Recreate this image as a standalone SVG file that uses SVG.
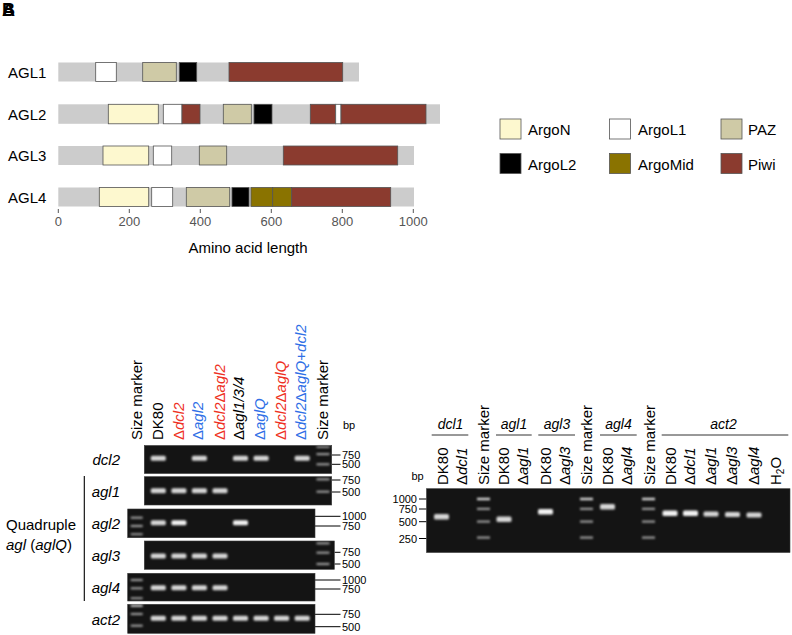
<svg xmlns="http://www.w3.org/2000/svg" width="792" height="635" viewBox="0 0 792 635">
<style>
text{font-family:"Liberation Sans",Arial,sans-serif;fill:#000}
.lbl{font-size:15px}
.it{font-style:italic}
.tick{font-size:13px;fill:#555}
.bp{font-size:11px}
.num{font-size:11px}
.gray{fill:#cccccc}
.dom{stroke:#555;stroke-width:0.8}
.argon{fill:#fdf8cf}
.argol1{fill:#ffffff}
.paz{fill:#cfcaa6}
.argol2{fill:#000000}
.argomid{fill:#8a7300}
.piwi{fill:#8b3b2f}
.gel{fill:#141414;stroke:#3a3a3a;stroke-width:0.6}
.band{fill:#d6d6d6;filter:url(#glow)}
.bandb{fill:#f2f2f2;filter:url(#glow)}
.lad{fill:#9a9a9a;filter:url(#glow)}
.ln{stroke:#000;stroke-width:1.1;fill:none}
.red{fill:#ee3124}
.blue{fill:#2f6fe6}
</style>
<defs>
<filter id="glow" x="-30%" y="-80%" width="160%" height="260%">
<feGaussianBlur stdDeviation="0.8"/>
</filter>
</defs>

<g id="panel-label">
<text x="2" y="16" style="font-size:18px;font-weight:bold">A</text>
<text x="2" y="16" style="font-size:18px;font-weight:bold">B</text>
</g>

<!-- Domain diagram -->
<g id="AGL1">
<text class="lbl" x="8" y="77.5">AGL1</text>
<rect class="gray" x="58.3" y="62.5" width="300.7" height="19"/>
<rect class="dom argol1" x="95.7" y="62.5" width="20.6" height="19"/>
<rect class="dom paz" x="142.7" y="62.5" width="33.6" height="19"/>
<rect class="dom argol2" x="179.3" y="62.5" width="17.4" height="19"/>
<rect class="dom piwi" x="229" y="62.5" width="113.7" height="19"/>
</g>
<g id="AGL2">
<text class="lbl" x="8" y="119.8">AGL2</text>
<rect class="gray" x="58.3" y="104.3" width="381.7" height="19.5"/>
<rect class="dom argon" x="108.3" y="104.3" width="50" height="19.5"/>
<rect class="dom argol1" x="163.3" y="104.3" width="18.7" height="19.5"/>
<rect class="dom piwi" x="182" y="104.3" width="18" height="19.5"/>
<rect class="dom paz" x="223.3" y="104.3" width="28" height="19.5"/>
<rect class="dom argol2" x="254" y="104.3" width="18" height="19.5"/>
<rect class="dom piwi" x="310.3" y="104.3" width="25.4" height="19.5"/>
<rect class="dom argol1" x="335.7" y="104.3" width="5.3" height="19.5"/>
<rect class="dom piwi" x="341" y="104.3" width="85" height="19.5"/>
</g>
<g id="AGL3">
<text class="lbl" x="8" y="161">AGL3</text>
<rect class="gray" x="58.3" y="146" width="355.7" height="19"/>
<rect class="dom argon" x="103" y="146" width="45.7" height="19"/>
<rect class="dom argol1" x="153.3" y="146" width="18.4" height="19"/>
<rect class="dom paz" x="199.3" y="146" width="27.4" height="19"/>
<rect class="dom piwi" x="283.3" y="146" width="114.4" height="19"/>
</g>
<g id="AGL4">
<text class="lbl" x="8" y="202.7">AGL4</text>
<rect class="gray" x="58.3" y="187.5" width="355.7" height="19"/>
<rect class="dom argon" x="99.3" y="187.5" width="49.4" height="19"/>
<rect class="dom argol1" x="151.7" y="187.5" width="21" height="19"/>
<rect class="dom paz" x="186.3" y="187.5" width="43.4" height="19"/>
<rect class="dom argol2" x="232" y="187.5" width="17" height="19"/>
<rect class="dom argomid" x="251" y="187.5" width="21.7" height="19"/>
<rect class="dom argomid" x="272.7" y="187.5" width="19" height="19"/>
<rect class="dom piwi" x="291.7" y="187.5" width="99" height="19"/>
</g>
<g id="axis">
<g stroke="#555" stroke-width="1">
<line x1="58.3" y1="209" x2="58.3" y2="213"/>
<line x1="129.3" y1="209" x2="129.3" y2="213"/>
<line x1="200.3" y1="209" x2="200.3" y2="213"/>
<line x1="271.3" y1="209" x2="271.3" y2="213"/>
<line x1="342.3" y1="209" x2="342.3" y2="213"/>
<line x1="413.3" y1="209" x2="413.3" y2="213"/>
</g>
<g text-anchor="middle">
<text class="tick" x="58.3" y="226">0</text>
<text class="tick" x="129.3" y="226">200</text>
<text class="tick" x="200.3" y="226">400</text>
<text class="tick" x="271.3" y="226">600</text>
<text class="tick" x="342.3" y="226">800</text>
<text class="tick" x="413.3" y="226">1000</text>
<text class="lbl" x="248" y="252.5">Amino acid length</text>
</g>
</g>

<!-- Legend -->
<g id="legend">
<g id="leg-argon"><rect class="dom argon" x="500" y="119" width="21" height="20"/><text class="lbl" x="528" y="135">ArgoN</text></g>
<g id="leg-argol1"><rect class="dom argol1" x="609.5" y="119" width="21" height="20"/><text class="lbl" x="638" y="135">ArgoL1</text></g>
<g id="leg-paz"><rect class="dom paz" x="721" y="119" width="21" height="20"/><text class="lbl" x="748" y="135">PAZ</text></g>
<g id="leg-argol2"><rect class="dom argol2" x="500" y="153.5" width="21" height="20"/><text class="lbl" x="528" y="169.5">ArgoL2</text></g>
<g id="leg-argomid"><rect class="dom argomid" x="609.5" y="153.5" width="21" height="20"/><text class="lbl" x="638" y="169.5">ArgoMid</text></g>
<g id="leg-piwi"><rect class="dom piwi" x="721" y="153.5" width="21" height="20"/><text class="lbl" x="748" y="169.5">Piwi</text></g>
</g>

<!-- Left gel: column labels -->
<g id="left-columns">
<text class="lbl" transform="translate(141.5,440) rotate(-90)">Size marker</text>
<text class="lbl" transform="translate(163.3,440) rotate(-90)">DK80</text>
<text class="lbl red" transform="translate(183.5,440) rotate(-90)">Δ<tspan class="it red">dcl2</tspan></text>
<text class="lbl blue" transform="translate(203,440) rotate(-90)">Δ<tspan class="it blue">agl2</tspan></text>
<text class="lbl red" transform="translate(224.5,440) rotate(-90)">Δ<tspan class="it red">dcl2</tspan>Δ<tspan class="it red">agl2</tspan></text>
<text class="lbl" transform="translate(244,440) rotate(-90)">Δ<tspan class="it">agl1/3/4</tspan></text>
<text class="lbl blue" transform="translate(265,440) rotate(-90)">Δ<tspan class="it blue">aglQ</tspan></text>
<text class="lbl red" transform="translate(285.5,440) rotate(-90)">Δ<tspan class="it red">dcl2</tspan>Δ<tspan class="it red">aglQ</tspan></text>
<text class="lbl blue" transform="translate(305.5,440) rotate(-90)">Δ<tspan class="it blue">dcl2</tspan>Δ<tspan class="it blue">aglQ</tspan>+<tspan class="it blue">dcl2</tspan></text>
<text class="lbl" transform="translate(328.3,440) rotate(-90)">Size marker</text>
<text class="bp" x="343" y="429">bp</text>
</g>

<!-- Left gel: row labels -->
<g id="left-rows">
<g text-anchor="end">
<text class="lbl it" x="120" y="465">dcl2</text>
<text class="lbl it" x="120" y="496.5">agl1</text>
<text class="lbl it" x="120" y="529">agl2</text>
<text class="lbl it" x="120" y="560.5">agl3</text>
<text class="lbl it" x="120" y="593">agl4</text>
<text class="lbl it" x="120" y="625">act2</text>
</g>
<text class="lbl" x="6" y="530">Quadruple</text>
<text class="lbl" x="6" y="550"><tspan class="it">agl</tspan> (<tspan class="it">aglQ</tspan>)</text>
</g>

<g id="connectors">
<line class="ln" x1="84.3" y1="476" x2="84.3" y2="601"/>
<g stroke="#000" stroke-width="1">
<line x1="332" y1="455" x2="340.5" y2="455"/>
<line x1="332" y1="464.3" x2="340.5" y2="464.3"/>
<line x1="332" y1="480" x2="340.5" y2="480"/>
<line x1="332" y1="492" x2="340.5" y2="492"/>
<line x1="315" y1="516.3" x2="340.5" y2="516.3"/>
<line x1="315" y1="526" x2="340.5" y2="526"/>
<line x1="334.5" y1="552.3" x2="340.5" y2="552.3"/>
<line x1="334.5" y1="564" x2="340.5" y2="564"/>
<line x1="315" y1="580" x2="340.5" y2="580"/>
<line x1="315" y1="589" x2="340.5" y2="589"/>
<line x1="315" y1="614.3" x2="340.5" y2="614.3"/>
<line x1="315" y1="626.7" x2="340.5" y2="626.7"/>
<line x1="419" y1="499" x2="426.5" y2="499"/>
<line x1="419" y1="509" x2="426.5" y2="509"/>
<line x1="419" y1="521.7" x2="426.5" y2="521.7"/>
<line x1="419" y1="538.5" x2="426.5" y2="538.5"/>
</g>
<g stroke="#333" stroke-width="1">
<line x1="431.7" y1="435" x2="468.3" y2="435"/>
<line x1="496" y1="435" x2="531.7" y2="435"/>
<line x1="538.3" y1="435" x2="575" y2="435"/>
<line x1="600" y1="435" x2="636.7" y2="435"/>
<line x1="661.7" y1="435" x2="788.3" y2="435"/>
</g>
</g>

<g id="left-size-labels">
<text class="num" x="342" y="459">750</text>
<text class="num" x="342" y="468.4">500</text>
<text class="num" x="342" y="484">750</text>
<text class="num" x="342" y="496">500</text>
<text class="num" x="342" y="520.3">1000</text>
<text class="num" x="342" y="530">750</text>
<text class="num" x="342" y="556.3">750</text>
<text class="num" x="342" y="568">500</text>
<text class="num" x="342" y="584">1000</text>
<text class="num" x="342" y="593">750</text>
<text class="num" x="342" y="618.3">750</text>
<text class="num" x="342" y="630.7">500</text>
</g>

<!-- Left gels -->
<g id="gel-dcl2">
<rect class="gel" x="144.3" y="445.5" width="187.4" height="28"/>
<rect class="band" x="150.8" y="455.8" width="15" height="5" rx="1.5"/>
<rect class="band" x="191.9" y="455.8" width="15" height="5" rx="1.5"/>
<rect class="band" x="233" y="455.8" width="15" height="5" rx="1.5"/>
<rect class="band" x="253.6" y="455.8" width="15" height="5" rx="1.5"/>
<rect class="band" x="294.7" y="455.8" width="15" height="5" rx="1.5"/>
<rect class="lad" x="316.5" y="446.2" width="13" height="1.8"/>
<rect class="lad" x="316.5" y="453" width="13" height="2.2"/>
<rect class="lad" x="316.5" y="463.2" width="13" height="2.2"/>
</g>
<g id="gel-agl1">
<rect class="gel" x="144.3" y="476.7" width="187.4" height="28.3"/>
<rect class="band" x="150.8" y="488.2" width="15" height="5" rx="1.5"/>
<rect class="band" x="171.4" y="488.2" width="15" height="5" rx="1.5"/>
<rect class="band" x="191.9" y="488.2" width="15" height="5" rx="1.5"/>
<rect class="band" x="212.5" y="488.2" width="15" height="5" rx="1.5"/>
<rect class="lad" x="316.5" y="478.2" width="13" height="2.2"/>
<rect class="lad" x="316.5" y="490.6" width="13" height="2.2"/>
</g>
<g id="gel-agl2">
<rect class="gel" x="127.7" y="509" width="187.3" height="28.7"/>
<rect class="lad" x="130.7" y="516.6" width="12" height="2.2"/>
<rect class="lad" x="130.7" y="524.9" width="12" height="2.2"/>
<rect class="lad" x="130.7" y="533.2" width="12" height="2"/>
<rect class="band" x="150.8" y="520.2" width="15" height="5" rx="1.5"/>
<rect class="bandb" x="171.4" y="520.2" width="15" height="5" rx="1.5"/>
<rect class="bandb" x="233" y="520.2" width="15" height="5" rx="1.5"/>
</g>
<g id="gel-agl3">
<rect class="gel" x="144.3" y="541" width="190" height="28.3"/>
<rect class="band" x="150.8" y="553.5" width="15" height="5" rx="1.5"/>
<rect class="band" x="171.4" y="553.5" width="15" height="5" rx="1.5"/>
<rect class="band" x="191.9" y="553.5" width="15" height="5" rx="1.5"/>
<rect class="band" x="212.5" y="553.5" width="15" height="5" rx="1.5"/>
<rect class="lad" x="316.5" y="542.2" width="13" height="2.2"/>
<rect class="lad" x="316.5" y="551.6" width="13" height="2.2"/>
<rect class="lad" x="316.5" y="562.9" width="13" height="2.2"/>
</g>
<g id="gel-agl4">
<rect class="gel" x="127.7" y="573.3" width="187.3" height="27.7"/>
<rect class="lad" x="130.7" y="578.9" width="12" height="2.2"/>
<rect class="lad" x="130.7" y="587.2" width="12" height="2.2"/>
<rect class="lad" x="130.7" y="597.2" width="12" height="2"/>
<rect class="band" x="150.8" y="585.2" width="15" height="5" rx="1.5"/>
<rect class="band" x="171.4" y="585.2" width="15" height="5" rx="1.5"/>
<rect class="band" x="191.9" y="585.2" width="15" height="5" rx="1.5"/>
<rect class="band" x="212.5" y="585.2" width="15" height="5" rx="1.5"/>
</g>
<g id="gel-act2">
<rect class="gel" x="127.7" y="604.3" width="187.3" height="29"/>
<rect class="band" x="130.7" y="604.8" width="12" height="2"/>
<rect class="lad" x="130.7" y="612.9" width="12" height="2.2"/>
<rect class="lad" x="130.7" y="624.6" width="12" height="2.2"/>
<rect class="band" x="150.8" y="615.8" width="15" height="5" rx="1.5"/>
<rect class="band" x="171.4" y="615.8" width="15" height="5" rx="1.5"/>
<rect class="band" x="191.9" y="615.8" width="15" height="5" rx="1.5"/>
<rect class="band" x="212.5" y="615.8" width="15" height="5" rx="1.5"/>
<rect class="band" x="233" y="615.8" width="15" height="5" rx="1.5"/>
<rect class="band" x="253.6" y="615.8" width="15" height="5" rx="1.5"/>
<rect class="band" x="274.1" y="615.8" width="15" height="5" rx="1.5"/>
<rect class="band" x="294.7" y="615.8" width="15" height="5" rx="1.5"/>
</g>

<!-- Right gel -->
<g id="right-groups" text-anchor="middle">
<text class="it" style="font-size:14px" x="450.5" y="429">dcl1</text>
<text class="it" style="font-size:14px" x="514" y="429">agl1</text>
<text class="it" style="font-size:14px" x="557" y="429">agl3</text>
<text class="it" style="font-size:14px" x="618.5" y="429">agl4</text>
<text class="it" style="font-size:14px" x="723.5" y="429">act2</text>
</g>
<g id="right-columns">
<text class="lbl" transform="translate(447.5,485) rotate(-90)">DK80</text>
<text class="lbl" transform="translate(467,485) rotate(-90)">Δ<tspan class="it">dcl1</tspan></text>
<text class="lbl" transform="translate(488.8,485) rotate(-90)">Size marker</text>
<text class="lbl" transform="translate(509,485) rotate(-90)">DK80</text>
<text class="lbl" transform="translate(528,485) rotate(-90)">Δ<tspan class="it">agl1</tspan></text>
<text class="lbl" transform="translate(551.3,485) rotate(-90)">DK80</text>
<text class="lbl" transform="translate(570,485) rotate(-90)">Δ<tspan class="it">agl3</tspan></text>
<text class="lbl" transform="translate(591.5,485) rotate(-90)">Size marker</text>
<text class="lbl" transform="translate(613,485) rotate(-90)">DK80</text>
<text class="lbl" transform="translate(632,485) rotate(-90)">Δ<tspan class="it">agl4</tspan></text>
<text class="lbl" transform="translate(654.5,485) rotate(-90)">Size marker</text>
<text class="lbl" transform="translate(676.3,485) rotate(-90)">DK80</text>
<text class="lbl" transform="translate(695,485) rotate(-90)">Δ<tspan class="it">dcl1</tspan></text>
<text class="lbl" transform="translate(715.5,485) rotate(-90)">Δ<tspan class="it">agl1</tspan></text>
<text class="lbl" transform="translate(737,485) rotate(-90)">Δ<tspan class="it">agl3</tspan></text>
<text class="lbl" transform="translate(758.5,485) rotate(-90)">Δ<tspan class="it">agl4</tspan></text>
<text class="lbl" transform="translate(781.3,485) rotate(-90)">H<tspan style="font-size:10px" dy="3">2</tspan><tspan dy="-3">O</tspan></text>
<text class="bp" x="411.5" y="480">bp</text>
</g>
<g id="right-size-labels" text-anchor="end">
<text class="num" x="417" y="503">1000</text>
<text class="num" x="417" y="513">750</text>
<text class="num" x="417" y="525.7">500</text>
<text class="num" x="417" y="542.5">250</text>
</g>
<g id="gel-right">
<rect class="gel" x="426.5" y="488.7" width="363.5" height="63.8"/>
<rect class="band" x="434" y="514" width="15" height="5.5" rx="1.5"/>
<rect class="band" x="496.5" y="516.5" width="15" height="5.5" rx="1.5"/>
<rect class="bandb" x="538" y="509" width="15" height="5.5" rx="1.5"/>
<rect class="band" x="600" y="504" width="15" height="5.5" rx="1.5"/>
<rect class="bandb" x="662.5" y="510.5" width="15" height="5.5" rx="1.5"/>
<rect class="bandb" x="683" y="510.5" width="15" height="5.5" rx="1.5"/>
<rect class="band" x="703.5" y="511.5" width="15" height="5" rx="1.5"/>
<rect class="band" x="725" y="512" width="15" height="5" rx="1.5"/>
<rect class="band" x="746.5" y="512.5" width="15" height="5" rx="1.5"/>
<rect class="band" x="477" y="497.8" width="13" height="2.4"/>
<rect class="lad" x="477" y="507.8" width="13" height="2.2"/>
<rect class="lad" x="477" y="520.5" width="13" height="2.2"/>
<rect class="lad" x="477" y="536.5" width="13" height="2.2"/>
<rect class="band" x="580" y="497.8" width="13" height="2.4"/>
<rect class="lad" x="580" y="507.8" width="13" height="2.2"/>
<rect class="lad" x="580" y="520.5" width="13" height="2.2"/>
<rect class="lad" x="580" y="536.5" width="13" height="2.2"/>
<rect class="band" x="642" y="497.8" width="13" height="2.4"/>
<rect class="lad" x="642" y="507.8" width="13" height="2.2"/>
<rect class="lad" x="642" y="520.5" width="13" height="2.2"/>
<rect class="lad" x="642" y="536.5" width="13" height="2.2"/>
</g>
</svg>
